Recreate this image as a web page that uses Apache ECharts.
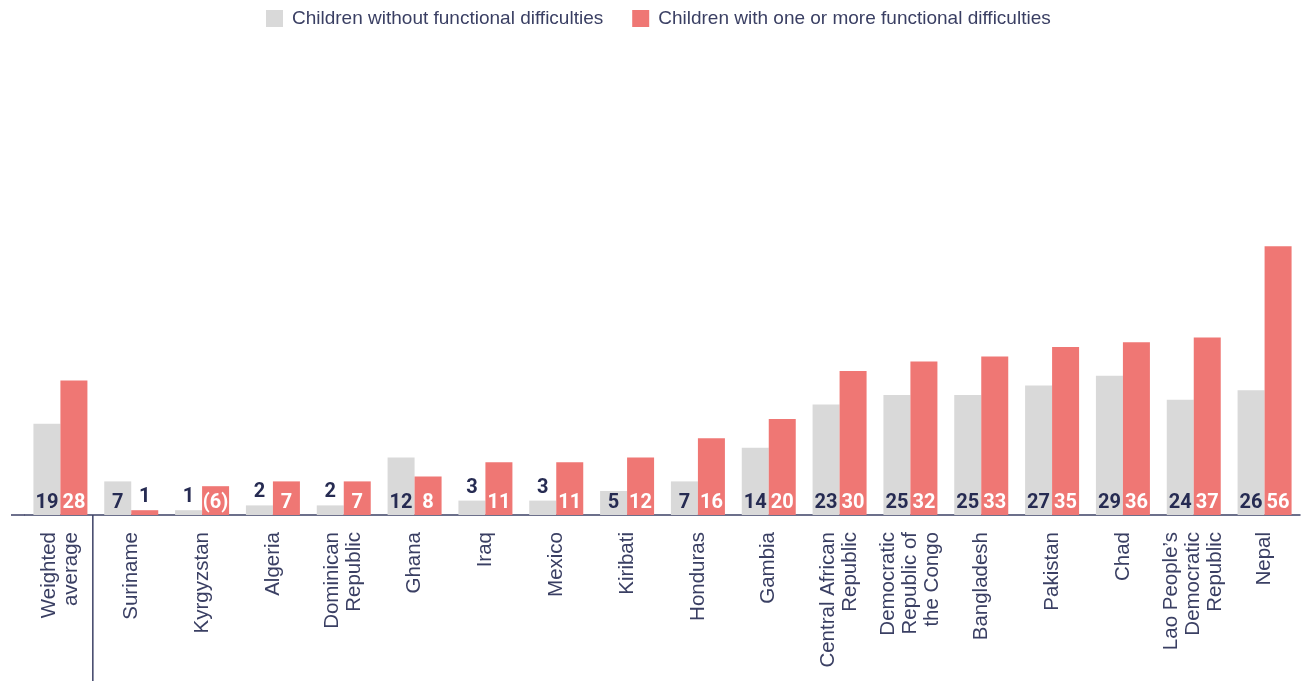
<!DOCTYPE html>
<html>
<head>
<meta charset="utf-8">
<script src="https://cdn.jsdelivr.net/npm/echarts@6/dist/echarts.min.js"></script>
<style>
  html, body { margin: 0; padding: 0; background: #fff; }
  #chart { width: 1302px; height: 681px; }
</style>
</head>
<body>
<div id="chart"></div>
<script>
// categories (line breaks as in the original)
const categories = [
  'Weighted\naverage', 'Suriname', 'Kyrgyzstan', 'Algeria', 'Dominican\nRepublic',
  'Ghana', 'Iraq', 'Mexico', 'Kiribati', 'Honduras', 'Gambia',
  'Central African\nRepublic', 'Democratic\nRepublic of\nthe Congo', 'Bangladesh',
  'Pakistan', 'Chad', 'Lao People\u2019s\nDemocratic\nRepublic', 'Nepal'
]
const withoutDiff = [19, 7, 1, 2, 2, 12, 3, 3, 5, 7, 14, 23, 25, 25, 27, 29, 24, 26]
const withDiff = [28, 1, 6, 7, 7, 8, 11, 11, 12, 16, 20, 30, 32, 33, 35, 36, 37, 56]
// values shown in brackets in the original
const bracketed = ['Kyrgyzstan']

const navy = '#262b52'
const axisColor = '#3c4166'
const grey = '#d9d9d9'
const red = '#ef7774'

// small bars get their number above the bar
const toItems = (values, insideColor, withBrackets) => values.map((v, i) => {
  const small = v < 5
  const text = withBrackets && bracketed.includes(categories[i]) ? '(' + v + ')' : String(v)
  return {
    value: v,
    label: {
      position: small ? 'top' : 'insideBottom',
      distance: small ? 3 : 2,
      color: small ? navy : insideColor,
      formatter: text
    }
  }
})

const chart = echarts.init(document.getElementById('chart'))

const valueLabel = {
  show: true,
  fontFamily: 'Roboto',
  fontWeight: 'bold',
  fontSize: 20
}

const gridLeft = 25

chart.setOption({
  animation: false,
  legend: {
    top: 4,
    left: 261,
    itemWidth: 17,
    itemHeight: 17,
    itemGap: 29,
    icon: 'rect',
    textStyle: {
      fontFamily: 'Liberation Sans',
      fontSize: 19,
      color: '#3a3f63',
      padding: [0, 0, 0, 4]
    },
    data: ['Children without functional difficulties', 'Children with one or more functional difficulties']
  },
  grid: {
    left: gridLeft,
    right: 2,
    top: 227,
    bottom: 166
  },
  xAxis: {
    type: 'category',
    data: categories,
    axisLine: { lineStyle: { color: axisColor, width: 1.5 } },
    axisTick: { show: false },
    axisLabel: {
      interval: 0,
      rotate: 90,
      margin: 17,
      fontFamily: 'Liberation Sans',
      fontSize: 20.5,
      lineHeight: 22,
      color: '#3a3f63'
    }
  },
  yAxis: {
    type: 'value',
    min: 0,
    max: 60,
    show: false,
    splitLine: { show: false }
  },
  series: [
    {
      name: 'Children without functional difficulties',
      type: 'bar',
      barWidth: 27,
      barGap: '0%',
      itemStyle: { color: grey },
      label: valueLabel,
      data: toItems(withoutDiff, navy, false)
    },
    {
      name: 'Children with one or more functional difficulties',
      type: 'bar',
      barWidth: 27,
      barGap: '0%',
      itemStyle: { color: red },
      label: valueLabel,
      data: toItems(withDiff, '#ffffff', true)
    }
  ]
})

// separator between the weighted average and the countries, plus the axis stub on the left
const baseY = chart.convertToPixel({ yAxisIndex: 0 }, 0)
const c0 = chart.convertToPixel({ xAxisIndex: 0 }, 0)
const c1 = chart.convertToPixel({ xAxisIndex: 0 }, 1)
const sepX = (c0 + c1) / 2 - 3
chart.setOption({
  graphic: [
    {
      type: 'line',
      shape: { x1: sepX, y1: baseY, x2: sepX, y2: 681 },
      style: { stroke: axisColor, lineWidth: 1.5 }
    },
    {
      type: 'line',
      shape: { x1: 11, y1: baseY, x2: gridLeft, y2: baseY },
      style: { stroke: axisColor, lineWidth: 1.5 }
    }
  ]
})
</script>
</body>
</html>
